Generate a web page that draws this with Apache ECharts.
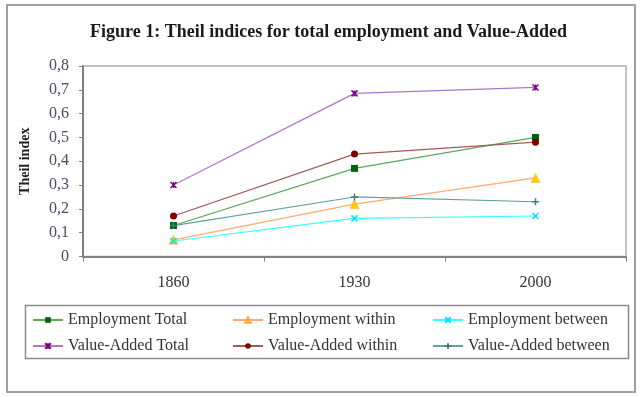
<!DOCTYPE html>
<html>
<head>
<meta charset="utf-8">
<script src="https://cdn.jsdelivr.net/npm/echarts@6/dist/echarts.min.js"></script>
<style>html,body{margin:0;padding:0;background:#fff}#c{width:640px;height:397px}</style>
</head>
<body>
<div id="c"></div>
<script>
var years = ['1860', '1930', '2000'];
var employmentTotal = [0.13, 0.37, 0.50];
var employmentWithin = [0.07, 0.22, 0.33];
var employmentBetween = [0.065, 0.16, 0.17];
var valueAddedTotal = [0.30, 0.685, 0.71];
var valueAddedWithin = [0.17, 0.43, 0.48];
var valueAddedBetween = [0.13, 0.25, 0.23];
var yTicks = { min: 0, max: 0.8, interval: 0.1 };

var FONT = '"Liberation Serif", "Times New Roman", serif';
var X_PATH = 'path://M0,0L10,10M10,0L0,10';
var PLUS_PATH = 'path://M5,0L5,10M0,5L10,5';
var STAR_PATH = 'path://M0,0L10,10M10,0L0,10M5,0L5,10';

function mk(name, data, lineColor, markColor, symbol, size, extra) {
  var s = {
    name: name, type: 'line', data: data,
    symbol: symbol, symbolSize: size,
    lineStyle: { color: lineColor, width: 1.2 },
    itemStyle: { color: markColor },
    emphasis: { disabled: true },
    animation: false
  };
  if (extra) s.itemStyle = Object.assign(s.itemStyle, extra);
  return s;
}

var chart = echarts.init(document.getElementById('c'), null, { renderer: 'canvas' });
var legendText = { fontFamily: FONT, fontSize: 16, color: '#333', lineHeight: 16 };
function legend(left, names) {
  return {
    orient: 'vertical', left: left, top: 312, padding: 0, itemWidth: 30, itemHeight: 7,
    itemGap: 10, data: names, textStyle: legendText, selectedMode: false
  };
}
chart.setOption({
  backgroundColor: '#fff',
  animation: false,
  title: {
    text: 'Figure 1: Theil indices for total employment and Value-Added',
    left: 90, top: 23, padding: 0,
    textStyle: { fontFamily: FONT, fontSize: 18, fontWeight: 'bold', color: '#1a1a1a' }
  },
  graphic: [
    { type: 'rect', shape: { x: 7, y: 5, width: 628, height: 387 }, style: { fill: 'none', stroke: '#a0a0a0', lineWidth: 2 }, silent: true },
    { type: 'rect', shape: { x: 25.5, y: 305.5, width: 603, height: 53 }, style: { fill: 'none', stroke: '#8a8a8a', lineWidth: 1.5 }, silent: true }
  ],
  grid: { left: 83, right: 14, top: 66, bottom: 140.5, show: true, borderColor: '#b0b0b0', borderWidth: 1.5, containLabel: false },
  xAxis: {
    type: 'category', data: years, boundaryGap: true,
    axisLine: { lineStyle: { color: '#808080', width: 2 } },
    axisTick: { show: true, length: 5, lineStyle: { color: '#808080' } },
    axisLabel: { fontFamily: FONT, fontSize: 16, color: '#333', margin: 18 }
  },
  yAxis: {
    type: 'value', min: yTicks.min, max: yTicks.max, interval: yTicks.interval,
    name: 'Theil index', nameLocation: 'middle', nameGap: 51, nameRotate: 90,
    nameTextStyle: { fontFamily: FONT, fontSize: 14, fontWeight: 'bold', color: '#222' },
    splitLine: { show: false },
    axisLine: { show: true, lineStyle: { color: '#808080', width: 2 } },
    axisTick: { show: true, length: 4, lineStyle: { color: '#808080' } },
    axisLabel: {
      fontFamily: FONT, fontSize: 16, color: '#4a4a66', margin: 14,
      formatter: function (v) { return v === 0 ? '0' : v.toFixed(1).replace('.', ','); }
    }
  },
  legend: [
    legend(32, ['Employment Total', 'Value-Added Total']),
    legend(232, ['Employment within', 'Value-Added within']),
    legend(432, ['Employment between', 'Value-Added between'])
  ],
  series: [
    mk('Employment Total', employmentTotal, '#5aa85a', '#006400', 'rect', 7),
    mk('Employment within', employmentWithin, '#ffaa70', '#ffcc00', 'triangle', 9, { borderColor: '#ffaa44', borderWidth: 0.5 }),
    mk('Employment between', employmentBetween, '#33ffff', '#00e0ff', X_PATH, 6, { borderColor: '#00e0ff', borderWidth: 1.5 }),
    mk('Value-Added Total', valueAddedTotal, '#a878c8', '#800080', STAR_PATH, 6, { borderColor: '#800080', borderWidth: 1.5 }),
    mk('Value-Added within', valueAddedWithin, '#a05a5a', '#800000', 'circle', 7),
    mk('Value-Added between', valueAddedBetween, '#5f9f9f', '#407f7f', PLUS_PATH, 7, { borderColor: '#407f7f', borderWidth: 1.5 })
  ]
});
</script>
</body>
</html>
